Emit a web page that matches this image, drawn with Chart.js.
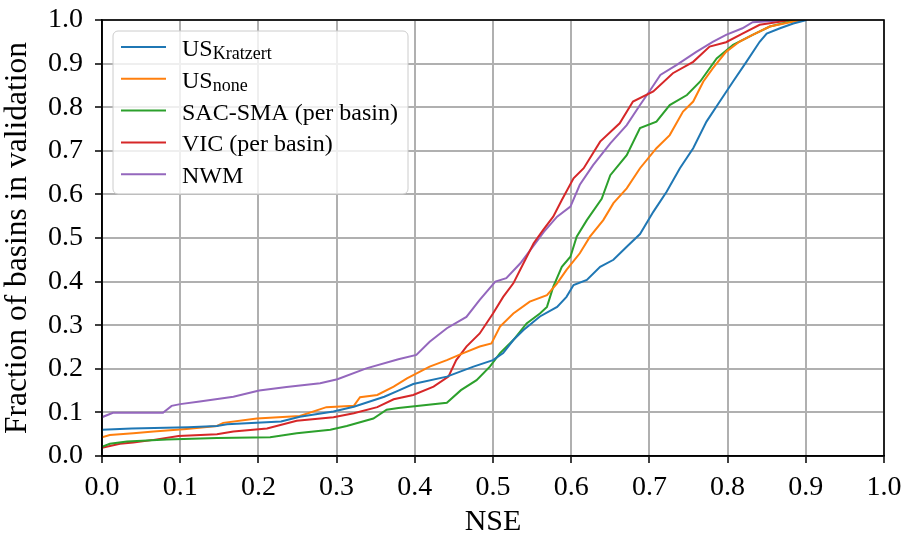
<!DOCTYPE html>
<html>
<head>
<meta charset="utf-8">
<script src="https://cdn.jsdelivr.net/npm/chart.js@4.4.1/dist/chart.umd.min.js"></script>
<style>
  html, body { margin: 0; padding: 0; background: #fff; }
  canvas { display: block; }
</style>
</head>
<body>
<canvas id="cdf" width="905" height="534"></canvas>
<script>
// ECDF curves: NSE value -> fraction of basins
const kratzertNse = [0, 0.038, 0.11, 0.147, 0.16, 0.229, 0.253, 0.296, 0.322, 0.361, 0.379, 0.398, 0.441, 0.475, 0.500, 0.513, 0.526, 0.539, 0.560, 0.582, 0.594, 0.603, 0.620, 0.637, 0.654, 0.671, 0.688, 0.705, 0.722, 0.739, 0.756, 0.773, 0.790, 0.807, 0.824, 0.841, 0.850, 0.867, 0.884, 0.901];
const kratzertFrac = [0.060, 0.063, 0.066, 0.069, 0.073, 0.079, 0.090, 0.102, 0.113, 0.136, 0.150, 0.165, 0.182, 0.205, 0.220, 0.236, 0.266, 0.289, 0.320, 0.342, 0.365, 0.392, 0.404, 0.434, 0.450, 0.480, 0.509, 0.560, 0.606, 0.660, 0.706, 0.767, 0.813, 0.859, 0.904, 0.950, 0.969, 0.981, 0.992, 1.0];

const noneNse = [0, 0.010, 0.040, 0.066, 0.108, 0.147, 0.155, 0.198, 0.253, 0.287, 0.322, 0.330, 0.352, 0.373, 0.390, 0.419, 0.441, 0.462, 0.483, 0.498, 0.509, 0.526, 0.547, 0.569, 0.582, 0.594, 0.611, 0.624, 0.641, 0.654, 0.671, 0.688, 0.709, 0.726, 0.743, 0.756, 0.769, 0.781, 0.798, 0.815, 0.832, 0.854, 0.883, 0.895];
const noneFrac = [0.043, 0.048, 0.052, 0.056, 0.062, 0.069, 0.076, 0.086, 0.092, 0.112, 0.115, 0.135, 0.140, 0.159, 0.178, 0.205, 0.220, 0.236, 0.251, 0.258, 0.297, 0.327, 0.354, 0.369, 0.396, 0.427, 0.465, 0.503, 0.541, 0.580, 0.614, 0.660, 0.706, 0.736, 0.790, 0.813, 0.859, 0.889, 0.927, 0.950, 0.966, 0.985, 0.996, 1.0];

const sacNse = [0, 0.010, 0.032, 0.083, 0.147, 0.215, 0.249, 0.292, 0.313, 0.347, 0.364, 0.379, 0.441, 0.459, 0.479, 0.496, 0.509, 0.526, 0.543, 0.560, 0.569, 0.577, 0.588, 0.599, 0.607, 0.620, 0.639, 0.650, 0.671, 0.688, 0.709, 0.726, 0.748, 0.765, 0.786, 0.807, 0.832, 0.854, 0.879, 0.892];
const sacFrac = [0.021, 0.028, 0.033, 0.038, 0.041, 0.043, 0.052, 0.060, 0.069, 0.086, 0.106, 0.110, 0.122, 0.151, 0.174, 0.205, 0.236, 0.266, 0.304, 0.327, 0.342, 0.388, 0.434, 0.457, 0.503, 0.541, 0.590, 0.644, 0.690, 0.752, 0.767, 0.805, 0.828, 0.859, 0.912, 0.943, 0.966, 0.985, 0.996, 1.0];

const vicNse = [0, 0.023, 0.040, 0.066, 0.098, 0.147, 0.168, 0.211, 0.249, 0.296, 0.322, 0.352, 0.373, 0.398, 0.424, 0.443, 0.453, 0.466, 0.483, 0.500, 0.513, 0.526, 0.539, 0.552, 0.564, 0.577, 0.588, 0.603, 0.616, 0.637, 0.662, 0.679, 0.705, 0.730, 0.756, 0.777, 0.798, 0.819, 0.841, 0.875, 0.890];
const vicFrac = [0.019, 0.028, 0.031, 0.037, 0.046, 0.050, 0.056, 0.063, 0.081, 0.089, 0.098, 0.112, 0.130, 0.140, 0.159, 0.182, 0.220, 0.251, 0.281, 0.327, 0.365, 0.396, 0.442, 0.488, 0.518, 0.549, 0.587, 0.637, 0.660, 0.721, 0.763, 0.813, 0.836, 0.878, 0.904, 0.939, 0.949, 0.969, 0.989, 0.998, 1.0];

const nwmNse = [0, 0.014, 0.078, 0.089, 0.100, 0.125, 0.168, 0.201, 0.236, 0.279, 0.301, 0.338, 0.379, 0.402, 0.419, 0.441, 0.466, 0.483, 0.503, 0.517, 0.535, 0.551, 0.565, 0.582, 0.599, 0.611, 0.628, 0.650, 0.671, 0.688, 0.701, 0.714, 0.735, 0.760, 0.781, 0.798, 0.819, 0.832, 0.862, 0.884];
const nwmFrac = [0.089, 0.099, 0.099, 0.115, 0.119, 0.125, 0.136, 0.150, 0.158, 0.167, 0.176, 0.201, 0.222, 0.232, 0.262, 0.293, 0.319, 0.358, 0.400, 0.408, 0.442, 0.480, 0.514, 0.549, 0.572, 0.622, 0.667, 0.717, 0.759, 0.805, 0.839, 0.874, 0.897, 0.927, 0.950, 0.966, 0.981, 0.995, 0.998, 1.0];

const seriesNames = ['US', 'US', 'SAC-SMA (per basin)', 'VIC (per basin)', 'NWM'];
const seriesSubs = ['Kratzert', 'none', '', '', ''];
const seriesColors = ['#1f77b4', '#ff7f0e', '#2ca02c', '#d62728', '#9467bd'];
const tickValues = [0, 0.1, 0.2, 0.3, 0.4, 0.5, 0.6, 0.7, 0.8, 0.9, 1.0];

const FONT = "'Liberation Serif', 'Times New Roman', serif";

function pts(xs, ys) {
    return xs.map((x, i) => ({ x: x, y: ys[i] }));
}

const allSeries = [
    pts(kratzertNse, kratzertFrac),
    pts(noneNse, noneFrac),
    pts(sacNse, sacFrac),
    pts(vicNse, vicFrac),
    pts(nwmNse, nwmFrac)
];

// frame + legend drawn on top of the lines, like matplotlib
const overlay = {
    id: 'overlay',
    afterDatasetsDraw(chart) {
        const ctx = chart.ctx;
        const a = chart.chartArea;
        ctx.save();
        ctx.strokeStyle = '#000';
        ctx.lineWidth = 1.6;
        ctx.strokeRect(a.left, a.top, a.right - a.left, a.bottom - a.top);

        // legend box
        const bx = a.left + 11, by = a.top + 11, bw = 295, bh = 163;
        ctx.beginPath();
        ctx.roundRect(bx, by, bw, bh, 5);
        ctx.fillStyle = 'rgba(255,255,255,0.8)';
        ctx.fill();
        ctx.strokeStyle = '#cccccc';
        ctx.lineWidth = 1;
        ctx.stroke();

        seriesNames.forEach((name, i) => {
            const ry = by + 16 + i * 31.8;
            ctx.strokeStyle = seriesColors[i];
            ctx.lineWidth = 2;
            ctx.beginPath();
            ctx.moveTo(bx + 8, ry);
            ctx.lineTo(bx + 53, ry);
            ctx.stroke();

            ctx.fillStyle = '#000';
            ctx.textAlign = 'left';
            ctx.textBaseline = 'alphabetic';
            ctx.font = '24px ' + FONT;
            const tx = bx + 69;
            ctx.fillText(name, tx, ry + 9);
            if (seriesSubs[i]) {
                const w = ctx.measureText(name).width;
                ctx.font = '18px ' + FONT;
                ctx.fillText(seriesSubs[i], tx + w, ry + 12);
            }
        });
        ctx.restore();
    }
};

const tickFont = { family: FONT, size: 28 };

new Chart(document.getElementById('cdf').getContext('2d'), {
    type: 'line',
    data: {
        datasets: allSeries.map((d, i) => ({
            label: seriesNames[i] + (seriesSubs[i] ? ' ' + seriesSubs[i] : ''),
            data: d,
            borderColor: seriesColors[i],
            backgroundColor: seriesColors[i],
            borderWidth: 2,
            pointRadius: 0,
            tension: 0,
            fill: false
        }))
    },
    options: {
        responsive: false,
        animation: false,
        layout: { padding: { left: 0, right: 21, top: 20, bottom: 0 } },
        plugins: { legend: { display: false }, tooltip: { enabled: false } },
        scales: {
            x: {
                type: 'linear', min: 0, max: 1,
                afterBuildTicks: s => { s.ticks = tickValues.map(v => ({ value: v })); },
                ticks: { callback: v => v.toFixed(1), font: tickFont, color: '#000', padding: 8, maxRotation: 0, autoSkip: false },
                grid: { color: '#b0b0b0', lineWidth: 2, tickColor: '#000', tickLength: 7, tickWidth: 1.5 },
                border: { color: '#000', width: 1.6 },
                title: { display: true, text: 'NSE', color: '#000', font: { family: FONT, size: 30, lineHeight: 0.8 }, padding: 0 },
                afterFit: s => { s.height = 78; s.paddingLeft = 0; s.paddingRight = 0; }
            },
            y: {
                type: 'linear', min: 0, max: 1,
                afterBuildTicks: s => { s.ticks = tickValues.map(v => ({ value: v })); },
                ticks: { callback: v => v.toFixed(1), font: tickFont, color: '#000', padding: 12, autoSkip: false },
                grid: { color: '#b0b0b0', lineWidth: 2, tickColor: '#000', tickLength: 7, tickWidth: 1.5 },
                border: { color: '#000', width: 1.6 },
                title: { display: true, text: 'Fraction of basins in validation', color: '#000', font: { family: FONT, size: 31.5, lineHeight: 1 }, padding: { top: 2, bottom: 0 } },
                afterFit: s => { s.width = 102; s.paddingTop = 0; s.paddingBottom = 0; }
            }
        }
    },
    plugins: [overlay]
});
</script>
</body>
</html>
